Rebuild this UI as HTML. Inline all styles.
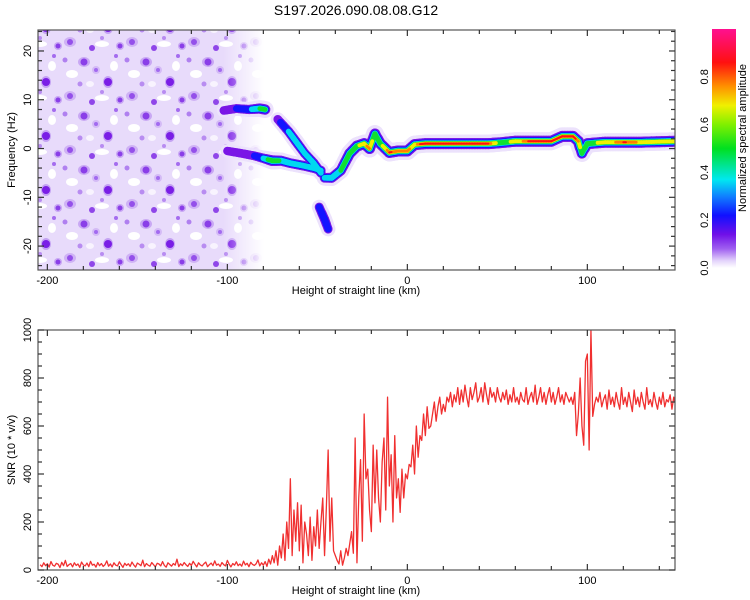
<!DOCTYPE html>
<html><head><meta charset="utf-8"><style>
html,body{margin:0;padding:0;background:#fff;}
svg{display:block;font-family:"Liberation Sans",sans-serif;}
</style></head><body>
<svg id="chart" width="750" height="600" viewBox="0 0 750 600" xmlns="http://www.w3.org/2000/svg">
<defs>
<linearGradient id="cbar" x1="0" y1="1" x2="0" y2="0">
<stop offset="0" stop-color="#ffffff"/>
<stop offset="0.03" stop-color="#e4d4fb"/>
<stop offset="0.08" stop-color="#a060f0"/>
<stop offset="0.14" stop-color="#7010e8"/>
<stop offset="0.22" stop-color="#1010ff"/>
<stop offset="0.30" stop-color="#1080ff"/>
<stop offset="0.37" stop-color="#00e8f0"/>
<stop offset="0.50" stop-color="#00e020"/>
<stop offset="0.60" stop-color="#80f000"/>
<stop offset="0.68" stop-color="#f0f000"/>
<stop offset="0.76" stop-color="#ff9000"/>
<stop offset="0.86" stop-color="#ff1010"/>
<stop offset="1" stop-color="#ff1090"/>
</linearGradient>
<pattern id="noise" width="62" height="54" patternUnits="userSpaceOnUse">
<rect width="62" height="54" fill="#e8dbfb"/>
<ellipse cx="10" cy="20" rx="6" ry="4" fill="#ffffff"/>
<ellipse cx="40" cy="44" rx="7" ry="3" fill="#ffffff"/>
<ellipse cx="52" cy="12" rx="4" ry="5" fill="#ffffff"/>
<ellipse cx="28" cy="30" rx="4" ry="3" fill="#f8f3fe"/>
<ellipse cx="22" cy="8" rx="6" ry="5" fill="#c9a8f4"/>
<ellipse cx="46" cy="28" rx="5" ry="6" fill="#c4a2f3"/>
<ellipse cx="8" cy="42" rx="6" ry="5" fill="#cfb2f5"/>
<ellipse cx="34" cy="16" rx="4" ry="4" fill="#d4bbf6"/>
<ellipse cx="58" cy="46" rx="4" ry="4" fill="#c9a8f4"/>
<circle cx="22" cy="8" r="3.5" fill="#8a3ee8"/>
<circle cx="46" cy="28" r="4" fill="#7a1ee6"/>
<circle cx="8" cy="42" r="3" fill="#9450ea"/>
<circle cx="34" cy="16" r="2" fill="#a26af0"/>
<circle cx="58" cy="46" r="2.5" fill="#8a3ee8"/>
<circle cx="3" cy="6" r="2.5" fill="#b080f0"/>
<circle cx="30" cy="48" r="3" fill="#8f46e9"/>
<circle cx="18" cy="30" r="2.5" fill="#b88cf1"/>
<circle cx="54" cy="2" r="2" fill="#a46cef"/>
<circle cx="40" cy="38" r="2" fill="#b88cf1"/>
</pattern>
<linearGradient id="fade" x1="0" y1="0" x2="1" y2="0">
<stop offset="0" stop-color="#fff"/><stop offset="0.82" stop-color="#fff"/><stop offset="1" stop-color="#000"/>
</linearGradient>
<mask id="fadeMask"><rect x="38" y="30" width="226" height="240" fill="url(#fade)"/></mask>
<clipPath id="topClip"><rect x="38" y="30" width="637" height="240"/></clipPath>
<clipPath id="botClip"><rect x="38" y="330" width="637" height="240"/></clipPath>
</defs>
<text x="356" y="15" font-size="14" text-anchor="middle" fill="#000">S197.2026.090.08.08.G12</text>
<g id="topPanel"></g>
<g id="botPanel"></g>
<g id="cbPanel"></g>
</svg>
<script>
// ---- data ----
const xTicksMajor = [-200, -100, 0, 100];
const freqTicksMajor = [-20, -10, 0, 10, 20];
const snrTicksMajor = [0, 200, 400, 600, 800, 1000];
const cbarTicks = [0.0, 0.2, 0.4, 0.6, 0.8];

const ridgeAKm = [-102, -95, -88, -82, -79];
const ridgeAFreq = [7.8, 8.2, 8.0, 8.2, 8.0];
const ridgeAAmp = [0.15, 0.2, 0.25, 0.45, 0.5];
const ridgeBKm = [-100, -92, -85, -80, -75, -70, -65, -58, -52, -48];
const ridgeBFreq = [-0.5, -1, -1.5, -2, -2.5, -2.5, -3, -3.5, -4, -4.5];
const ridgeBAmp = [0.12, 0.15, 0.2, 0.3, 0.55, 0.4, 0.35, 0.35, 0.35, 0.3];
const ridgeCKm = [-72, -66, -62, -57, -52, -48];
const ridgeCFreq = [6, 3.5, 1.5, -1, -3, -5];
const ridgeCAmp = [0.15, 0.3, 0.35, 0.3, 0.35, 0.3];
const ridgeDKm = [-49, -46, -44];
const ridgeDFreq = [-12, -14.5, -16.5];
const ridgeDAmp = [0.2, 0.3, 0.2];
const ridgeEKm = [-46, -42, -37, -32, -28, -24, -21, -18, -15, -10, -5, 0, 4, 10, 30, 45, 52, 60, 70, 80, 86, 92, 95, 97, 100, 110, 120, 130, 150];
const ridgeEFreq = [-6, -6, -4.5, -1, 0.5, 1, 0, 3, 1, -0.8, -0.5, -0.5, 0.8, 1, 1, 1, 1.2, 1.5, 1.5, 1.5, 2.5, 2.5, 1.5, -1, 1, 1.3, 1.3, 1.3, 1.5];
const ridgeEAmp = [0.35, 0.4, 0.45, 0.55, 0.6, 0.75, 0.8, 0.5, 0.6, 0.85, 0.8, 0.8, 0.75, 0.9, 0.9, 0.85, 0.55, 0.7, 0.88, 0.85, 0.9, 0.9, 0.8, 0.4, 0.6, 0.7, 0.85, 0.75, 0.75];

const snrStartKm = -204;
const snrValues = [
22,14,30,18,26,12,35,20,16,28, 24,10,32,18,40,15,22,27,13,30,
19,25,11,33,21,17,29,14,36,20, 24,12,31,18,27,15,22,38,16,25,
13,30,20,17,34,22,11,28,19,26, 15,33,21,12,29,24,18,41,14,27,
20,16,31,22,13,28,25,17,35,19, 12,30,23,16,27,20,45,14,26,18,
31,22,15,28,19,36,24,13,30,21, 17,26,33,14,22,29,18,38,20,25,
15,31,22,17,40,24,13,27,20,34, 18,25,16,37,21,28,14,32,23,19,
26,42,17,30,
20,35,15,45,25,60,30,80,20,100,
50,150,40,200,90,380,60,250,120,280,
80,270,30,200,150,60,220,40,180,100,
250,90,200,300,60,260,500,120,300,80,
60,40,25,80,20,50,90,60,110,160,
70,550,30,300,460,120,650,380,420,250,
160,520,280,500,300,200,450,550,250,720,
350,480,200,560,300,380,240,420,300,400,
380,440,430,520,400,600,470,560,540,650,
560,680,590,600,650,700,620,680,720,650,
690,660,720,700,740,680,730,700,760,690,
750,700,770,720,680,760,710,740,780,700,
720,760,700,780,730,690,760,720,740,700,
760,720,700,740,710,750,690,730,700,760,
700,720,690,740,710,700,760,690,720,740,
700,770,690,720,760,700,740,690,730,760,
700,740,690,720,760,700,730,690,740,720,
700,720,690,740,560,650,800,600,520,870,
900,500,1000,640,690,720,700,740,680,710,
730,670,750,690,720,680,740,700,670,760,
690,720,680,740,700,660,750,690,720,680,
740,700,670,760,690,710,680,740,700,670,
720,690,740,680,710,700,730,670,720,690,700
];

// ---- scales ----
const X0 = 38, X1 = 675;
const kmMin = -205.2, kmMax = 148.7;
function xs(km){ return X0 + (km - kmMin) / (kmMax - kmMin) * (X1 - X0); }
const TY0 = 30, TY1 = 270, fMin = -24.9, fMax = 24.3;
function ysF(f){ return TY1 - (f - fMin) / (fMax - fMin) * (TY1 - TY0); }
const BY0 = 330, BY1 = 570, sMin = 0, sMax = 1000;
function ysS(v){ return BY1 - (v - sMin) / (sMax - sMin) * (BY1 - BY0); }
const CY0 = 29, CY1 = 268;
function ysC(a){ return CY1 - a * (CY1 - CY0); }

const NS = "http://www.w3.org/2000/svg";
function mk(tag, attrs, parent){ const e = document.createElementNS(NS, tag); for (const k in attrs) e.setAttribute(k, attrs[k]); parent.appendChild(e); return e; }

const topG = document.getElementById('topPanel');
const botG = document.getElementById('botPanel');
const cbG = document.getElementById('cbPanel');

// ---- top panel: noise texture ----
const noiseG = mk('g', {'clip-path':'url(#topClip)'}, topG);
const noise = mk('rect', {x:38, y:30, width:226, height:240, fill:'url(#noise)', mask:'url(#fadeMask)'}, noiseG);



// ---- ridges ----
const layers = [
  {th:0.0, w:18, c:'#ece2fc'},
  {th:0.1, w:11, c:'#7a16e6'},
  {th:0.2, w:8.5, c:'#1414ff'},
  {th:0.3, w:6.5, c:'#00d8f0'},
  {th:0.45, w:5, c:'#10e030'},
  {th:0.65, w:3.8, c:'#f0f000'},
  {th:0.78, w:2.8, c:'#ff8000'},
  {th:0.84, w:2, c:'#ff1010'}
];
const branches = [
  [ridgeAKm, ridgeAFreq, ridgeAAmp, 'ridge-upper-branch'],
  [ridgeBKm, ridgeBFreq, ridgeBAmp, 'ridge-lower-branch'],
  [ridgeCKm, ridgeCFreq, ridgeCAmp, 'ridge-descending-branch'],
  [ridgeDKm, ridgeDFreq, ridgeDAmp, 'ridge-tail-branch'],
  [ridgeEKm, ridgeEFreq, ridgeEAmp, 'ridge-main']
];
const ridgeG = mk('g', {'clip-path':'url(#topClip)'}, topG);
layers.forEach(L => {
  branches.forEach(b => {
    const km = b[0], fr = b[1], am = b[2];
    for (let i = 0; i < km.length - 1; i++) {
      const steps = Math.max(1, Math.ceil(Math.abs(km[i+1]-km[i]) / 1.5));
      for (let s = 0; s < steps; s++) {
        const t0 = s/steps, t1 = (s+1)/steps;
        const a = am[i] + (am[i+1]-am[i]) * (t0+t1)/2;
        if (a < L.th) continue;
        const seg = mk('line', {
          x1: xs(km[i] + (km[i+1]-km[i])*t0), y1: ysF(fr[i] + (fr[i+1]-fr[i])*t0),
          x2: xs(km[i] + (km[i+1]-km[i])*t1), y2: ysF(fr[i] + (fr[i+1]-fr[i])*t1),
          stroke: L.c, 'stroke-width': L.w * (0.7 + 0.3*Math.min(1, a/0.6)), 'stroke-linecap':'round'
        }, ridgeG);
        
        
      }
    }
  });
});

// ---- axes frames & ticks ----
function frame(g, y0, y1, name){
  const r = mk('rect', {x:X0, y:y0, width:X1-X0, height:y1-y0, fill:'none', stroke:'#555', 'stroke-width':1.2}, g);
  
  
}
function xAxis(g, y0, y1, prefix){
  for (let km = -200; km <= 140; km += 20) {
    const major = xTicksMajor.indexOf(km) >= 0;
    const len = major ? 6 : 4;
    mk('line', {x1:xs(km), x2:xs(km), y1:y1, y2:y1-len, stroke:'#333', 'stroke-width':1.2}, g);
    mk('line', {x1:xs(km), x2:xs(km), y1:y0, y2:y0+len, stroke:'#333', 'stroke-width':1.2}, g);
  }
  xTicksMajor.forEach(km => {
    const t = mk('text', {x:xs(km), y:y1+14, 'font-size':11, 'text-anchor':'middle', fill:'#000'}, g);
    t.textContent = String(km);
    
    
  });
  const lab = mk('text', {x:356, y:y1+24, 'font-size':11, 'text-anchor':'middle', fill:'#000'}, g);
  lab.textContent = 'Height of straight line (km)';
  
  
}
frame(topG, TY0, TY1, 'spectrogram-frame');
xAxis(topG, TY0, TY1, 'spectrogram');
for (let f = -24; f <= 24; f += 2) {
  const major = freqTicksMajor.indexOf(f) >= 0;
  const len = major ? 6 : 4;
  mk('line', {x1:X0, x2:X0+len, y1:ysF(f), y2:ysF(f), stroke:'#333', 'stroke-width':1.2}, topG);
  mk('line', {x1:X1, x2:X1-len, y1:ysF(f), y2:ysF(f), stroke:'#333', 'stroke-width':1.2}, topG);
}
freqTicksMajor.forEach(f => {
  const t = mk('text', {x:0, y:0, 'font-size':11, 'text-anchor':'middle', fill:'#000', transform:'translate(31,' + ysF(f) + ') rotate(-90)'}, topG);
  t.textContent = String(f);
  
  
});
const fy = mk('text', {x:0, y:0, 'font-size':11, 'text-anchor':'middle', fill:'#000', transform:'translate(15,150) rotate(-90)'}, topG);
fy.textContent = 'Frequency (Hz)';



// ---- bottom panel ----
const pts = snrValues.map((v, i) => xs(snrStartKm + i).toFixed(2) + ',' + ysS(v).toFixed(2)).join(' ');
const line = mk('polyline', {points:pts, fill:'none', stroke:'#f03030', 'stroke-width':1.3, 'stroke-linejoin':'round', 'clip-path':'url(#botClip)'}, botG);


frame(botG, BY0, BY1, 'snr-frame');
xAxis(botG, BY0, BY1, 'snr');
for (let v = 0; v <= 1000; v += 50) {
  const major = snrTicksMajor.indexOf(v) >= 0;
  const len = major ? 6 : 4;
  mk('line', {x1:X0, x2:X0+len, y1:ysS(v), y2:ysS(v), stroke:'#333', 'stroke-width':1.2}, botG);
  mk('line', {x1:X1, x2:X1-len, y1:ysS(v), y2:ysS(v), stroke:'#333', 'stroke-width':1.2}, botG);
}
snrTicksMajor.forEach(v => {
  const t = mk('text', {x:0, y:0, 'font-size':11, 'text-anchor':'middle', fill:'#000', transform:'translate(31,' + ysS(v) + ') rotate(-90)'}, botG);
  t.textContent = String(v);
  
  
});
const sy = mk('text', {x:0, y:0, 'font-size':11, 'text-anchor':'middle', fill:'#000', transform:'translate(15,450) rotate(-90)'}, botG);
sy.textContent = 'SNR (10 * v/v)';



// ---- colorbar ----
const bar = mk('rect', {x:712, y:CY0, width:24, height:CY1-CY0, fill:'url(#cbar)'}, cbG);


cbarTicks.forEach(a => {
  const t = mk('text', {x:0, y:0, 'font-size':11, 'text-anchor':'middle', fill:'#000', transform:'translate(708,' + ysC(a) + ') rotate(-90)'}, cbG);
  t.textContent = a.toFixed(1);
  
  
});
const ct = mk('text', {x:0, y:0, 'font-size':11, 'text-anchor':'middle', fill:'#000', transform:'translate(746,138) rotate(-90)'}, cbG);
ct.textContent = 'Normalized spectral amplitude';


</script>
</body></html>
